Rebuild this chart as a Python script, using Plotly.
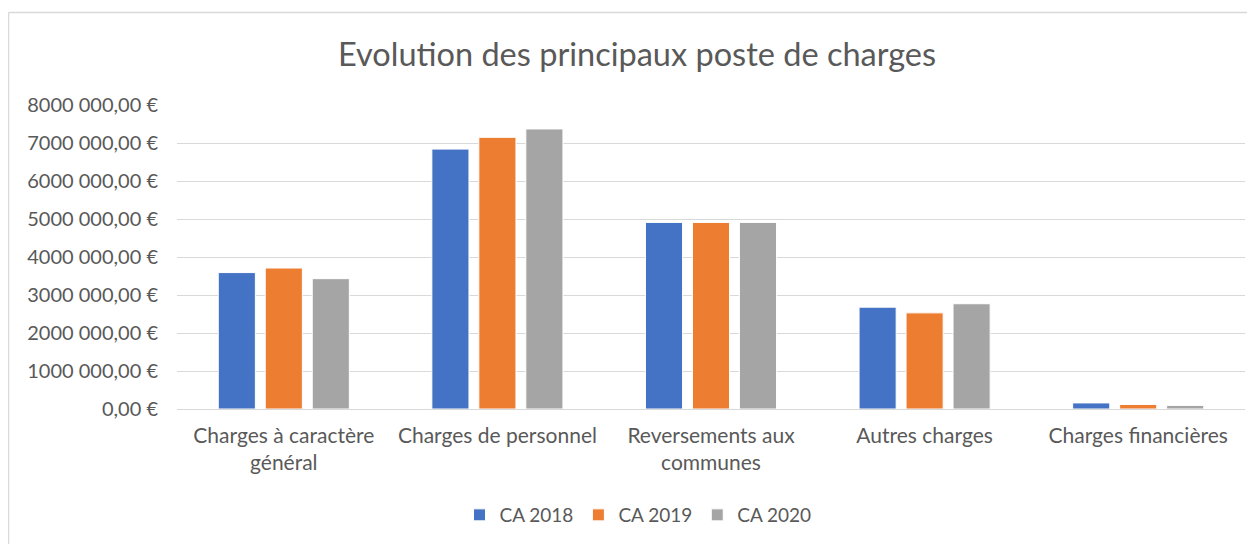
import plotly.graph_objects as go

categories = ["Charges à caractère<br>général", "Charges de personnel", "Reversements aux<br>communes",
              "Autres charges", "Charges financières"]
ca2018 = [3590000, 6840000, 4910000, 2680000, 160000]
ca2019 = [3710000, 7150000, 4910000, 2530000, 120000]
ca2020 = [3430000, 7370000, 4910000, 2770000, 95000]
tick_vals = [0, 1000000, 2000000, 3000000, 4000000, 5000000, 6000000, 7000000, 8000000]
tick_text = ["0,00 €", "1000 000,00 €", "2000 000,00 €", "3000 000,00 €", "4000 000,00 €",
             "5000 000,00 €", "6000 000,00 €", "7000 000,00 €", "8000 000,00 €"]
series_names = ["CA 2018", "CA 2019", "CA 2020"]
colors = ["#4472C4", "#ED7D31", "#A5A5A5"]

FONT = "Lato, Calibri, 'Open Sans', sans-serif"
W, H = 1247, 536
L, R, T, B = 169, 10, 97, 135
pw, ph = W - L - R, H - T - B

fig = go.Figure()
for name, vals, col in zip(series_names, [ca2018, ca2019, ca2020], colors):
    fig.add_trace(go.Bar(name=name, x=categories, y=vals,
                         marker=dict(color=col, line=dict(color="white", width=1))))

fig.update_layout(
    width=W, height=H,
    margin=dict(l=L, r=R, t=T, b=B),
    paper_bgcolor="white", plot_bgcolor="white",
    barmode="group", bargap=0.34, bargroupgap=0.21,
    font=dict(family=FONT, color="#595959", size=19),
    title=dict(text="Evolution des principaux poste de charges",
               x=629 / W, xref="container", xanchor="center",
               y=1 - 47 / H, yref="container", yanchor="middle",
               font=dict(size=32.5, color="#595959", family=FONT)),
    legend=dict(orientation="h", x=(630 - L) / pw, xanchor="center",
                y=(T + ph - 507) / ph, yanchor="middle",
                font=dict(size=19, color="#595959"), itemwidth=30, traceorder="normal"),
    showlegend=True,
)
fig.update_yaxes(range=[0, 8000000], tickvals=tick_vals, ticktext=tick_text,
                 showgrid=True, gridcolor="#D9D9D9", gridwidth=1.3,
                 zeroline=True, zerolinecolor="#D9D9D9", zerolinewidth=1.3,
                 ticks="", ticklabelstandoff=18, showline=False, fixedrange=True,
                 tickfont=dict(size=20))
fig.update_xaxes(showline=False, ticks="", tickangle=0, ticklabelstandoff=12,
                 tickfont=dict(size=21))
# chart-area frame (left and top edges visible)
fig.add_shape(type="line", xref="paper", yref="paper",
              x0=(0.5 - L) / pw, x1=(0.5 - L) / pw, y0=(T + ph - H) / ph - 0.1, y1=(T + ph - 4.5) / ph,
              line=dict(color="#D9D9D9", width=1.5))
fig.add_shape(type="line", xref="paper", yref="paper",
              x0=(0.5 - L) / pw, x1=(W + 10 - L) / pw, y0=(T + ph - 4.5) / ph, y1=(T + ph - 4.5) / ph,
              line=dict(color="#D9D9D9", width=1.5))
fig.write_html("out.html")
